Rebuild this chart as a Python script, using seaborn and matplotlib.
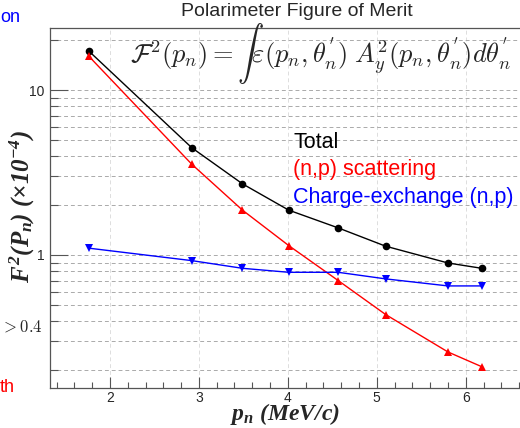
import numpy as np
import pandas as pd
import matplotlib
matplotlib.use("Agg")
import matplotlib.pyplot as plt
from matplotlib.ticker import MultipleLocator, LogLocator, NullFormatter, FixedLocator
import seaborn as sns

# Dados
p_n = [1.76, 2.92, 3.49, 4.01, 4.565, 5.10, 5.80, 6.18]
total = [17.3, 4.47, 2.70, 1.87, 1.46, 1.13, 0.894, 0.83]
np_scattering = [16.1, 3.55, 1.87, 1.14, 0.70, 0.435, 0.258, 0.21]
charge_exchange = [1.10, 0.924, 0.83, 0.785, 0.785, 0.716, 0.649, 0.649]

series_names = ["Total", "(n,p) scattering", "Charge-exchange (n,p)"]
series_colors = ["black", "red", "blue"]
series_markers = ["o", "^", "v"]

x_ticks = [2, 3, 4, 5, 6]
x_tick_labels = ["2", "3", "4", "5", "6"]
y_ticks = [1, 10]
y_tick_labels = ["1", "10"]

df = pd.DataFrame({
    "p": p_n * 3,
    "F2": total + np_scattering + charge_exchange,
    "serie": [series_names[0]] * len(p_n) + [series_names[1]] * len(p_n) + [series_names[2]] * len(p_n),
})

# Estilo
sns.set_style("ticks")
plt.rcParams["font.family"] = ["Liberation Sans", "DejaVu Sans"]
plt.rcParams["mathtext.fontset"] = "custom"
plt.rcParams["mathtext.rm"] = "Liberation Serif:bold:italic"
plt.rcParams["mathtext.it"] = "Liberation Serif:bold:italic"
plt.rcParams["mathtext.bf"] = "Liberation Serif:bold:italic"

fig = plt.figure(figsize=(5.2, 4.28), dpi=100)
ax = fig.add_axes([50 / 520, 1 - 388 / 428, 475 / 520, 360 / 428])

# Linhas
for name, color, marker in zip(series_names, series_colors, series_markers):
    sns.lineplot(data=df[df["serie"] == name], x="p", y="F2", color=color, marker=marker,
                 markersize=5.5, markeredgecolor=color, markeredgewidth=0, linewidth=1,
                 ax=ax, legend=False)

ax.set_yscale("log")
ax.set_xlim(1.326, 6.666)
ax.set_ylim(0.156, 23.8)

# Eixos
ax.xaxis.set_major_locator(FixedLocator(x_ticks))
ax.set_xticklabels(x_tick_labels)
ax.xaxis.set_minor_locator(MultipleLocator(0.2))
ax.yaxis.set_major_locator(FixedLocator(y_ticks))
ax.set_yticklabels(y_tick_labels)
ax.yaxis.set_minor_locator(LogLocator(base=10, subs=np.arange(2, 10)))
ax.yaxis.set_minor_formatter(NullFormatter())

ax.tick_params(axis="x", which="major", direction="in", length=8, width=0.8, color="#555555",
               labelsize=10, pad=2)
ax.tick_params(axis="x", which="minor", direction="in", length=4, width=0.8, color="#555555")
ax.tick_params(axis="y", which="major", direction="in", length=13, width=0.8, color="#555555",
               labelsize=10, pad=4)
ax.tick_params(axis="y", which="minor", direction="in", length=6, width=0.8, color="#555555")

ax.grid(axis="y", which="both", linestyle=(0, (4, 3)), color="#aaaaaa", linewidth=0.7)
ax.grid(axis="x", which="major", linestyle=(0, (4, 3)), color="#dddddd", linewidth=0.7)
ax.set_axisbelow(True)

for side in ["left", "bottom", "top"]:
    ax.spines[side].set_color("#555555")
    ax.spines[side].set_linewidth(0.9)
ax.spines["right"].set_visible(False)

ax.set_xlabel("")
ax.set_ylabel("")

# Títulos e rótulos
fig.text(297 / 520, 1 - 12 / 428, "Polarimeter Figure of Merit", ha="center", va="center",
         fontsize=14)
fig.text(320 / 520, 1 - 54 / 428,
         r"$\mathcal{F}^2(p_n) = \int \varepsilon(p_n,\theta_n^{'})\;A_y^2(p_n,\theta_n^{'})d\theta_n^{'}$",
         ha="center", va="center", fontsize=19, math_fontfamily="cm")
fig.text(22 / 520, 1 - 207 / 428, r"$F^{2}(P_{n})\ (\times 10^{-4})$", rotation=90,
         ha="center", va="center", fontsize=18)
fig.text(285 / 520, 1 - 414 / 428, r"$p_{n}\ (MeV/c)$", ha="center", va="center", fontsize=17)

# Legenda em texto
for i, (name, color) in enumerate(zip(series_names, series_colors)):
    fig.text(293 / 520, 1 - (143 + 27 * i) / 428, name, color=color, ha="left", va="center",
             fontsize=15.5)

# Textos cortados na margem esquerda
fig.text(0, 1 - 18 / 428, "on", color="blue", ha="left", va="center", fontsize=13)
fig.text(0.002, 1 - 327 / 428, r"$> 0.4$", ha="left", va="center", fontsize=12,
         math_fontfamily="cm")
fig.text(0, 1 - 387 / 428, "th", color="red", ha="left", va="center", fontsize=13)

fig.savefig("out.png", dpi=100)
